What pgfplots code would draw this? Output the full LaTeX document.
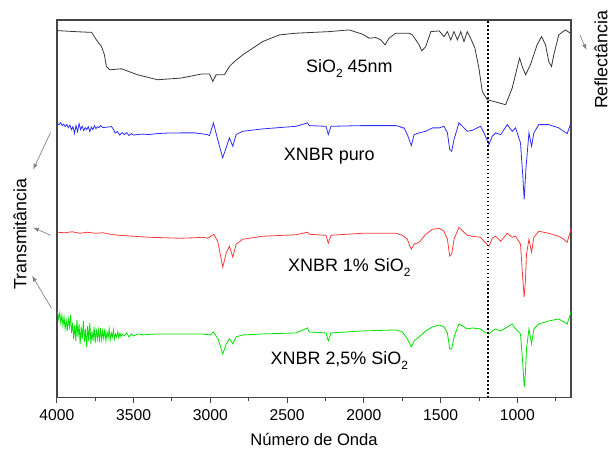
\documentclass[border=0pt]{standalone}
\usepackage{pgfplots}
\pgfplotsset{compat=1.18}
\usepackage{fontspec}
\setmainfont{Liberation Sans}
\definecolor{cBlack}{RGB}{55,55,55}
\definecolor{cBlue}{RGB}{45,45,255}
\definecolor{cRed}{RGB}{255,60,60}
\definecolor{cGreen}{RGB}{0,225,0}
\definecolor{cFrame}{RGB}{70,70,70}
\newcommand{\sub}[1]{\raisebox{-0.55ex}{\fontsize{9}{9}\selectfont #1}}
\begin{document}
\begin{tikzpicture}
\begin{axis}[
    name=ax,
    scale only axis,
    width=387pt, height=284.25pt,
    x dir=reverse,
    xmin=650, xmax=4000,
    ymin=1, ymax=380,
    ytick=\empty,
    xtick={1000,1500,...,4000},
    minor xtick={750,1250,...,3750},
    xtick pos=left,
    tick align=outside,
    major tick length=4pt,
    minor tick length=2.5pt,
    tick style={cFrame, line width=0.8pt},
    axis line style={cFrame, line width=1.1pt},
    /pgf/number format/assume math mode=true,
    /pgf/number format/1000 sep={},
    x tick label style={font=\fontsize{11.8}{13}\selectfont, yshift=-1pt},
    xlabel={Número de Onda},
    xlabel style={font=\fontsize{12.5}{14}\selectfont, yshift=-3pt},
    clip=false,
    every axis plot/.append style={line width=0.6pt},
]
% SiO2 45nm
\addplot[color=cBlack] coordinates {
(3995,369.3) (3940,368.8) (3883,368.3) (3800,367.7) (3774,367.7) (3742,360)
(3709,353.3) (3690,345) (3677,333.3) (3655,330) (3579,331) (3474,325)
(3344,320) (3190,321.7) (3059,325.7) (3005,325.7) (2984,318.3) (2962,325)
(2908,325) (2876,333.3) (2843,338.3) (2789,345) (2659,358.3) (2550,365)
(2442,366.7) (2225,368.3) (2096,370) (2009,365.7) (1966,361.7) (1922,362.3)
(1890,360) (1862,355) (1836,361.7) (1792,366.7) (1770,366.7) (1706,366.7)
(1684,365) (1640,355) (1623,349) (1597,353.3) (1564,368.3) (1510,369)
(1478,363.3) (1456,368.3) (1434,360) (1413,368.3) (1391,360) (1369,368.3)
(1348,358.3) (1327,368.3) (1305,361.7) (1277,351.7) (1251,331.7) (1229,308.3)
(1197,300) (1142,297.7) (1077,295) (1034,311.7) (1002,331.7) (986,341.7)
(965,331.7) (947,325) (915,335) (872,355) (843,363.3) (817,355)
(796,338.3) (778,333.3) (763,345) (731,365) (688,370) (655,366.7) (650,368)
};
% XNBR puro
\addplot[color=cBlue] coordinates {
(3995,276) (3985,275) (3975,277) (3965,274) (3955,275.5) (3945,273)
(3935,275) (3925,272) (3915,274.5) (3905,270) (3895,273) (3885,266)
(3875,274) (3865,268) (3855,276) (3845,270) (3835,273.5) (3825,269)
(3815,272) (3805,270) (3795,273) (3785,268) (3775,272.5) (3765,270)
(3755,274) (3745,271) (3735,273) (3725,272) (3715,274) (3700,272)
(3644,273) (3630,270) (3620,266.5) (3605,268) (3590,264.5) (3575,267)
(3560,265) (3545,267) (3530,264) (3515,266) (3500,264.5) (3474,265)
(3440,265.5) (3400,265) (3344,266) (3280,266.5) (3190,266.7) (3100,266.7)
(3020,265) (3005,264) (2980,276.7) (2952,260) (2920,241.7) (2897,251.7)
(2876,261.7) (2854,253.3) (2832,265) (2789,268.3) (2659,270.7) (2442,273.3)
(2367,276.7) (2356,274) (2247,273.3) (2232,265) (2214,273.3) (2009,274)
(1792,274) (1770,273.3) (1749,271.7) (1738,271.7) (1717,265) (1691,254)
(1673,265) (1640,266.7) (1597,268.3) (1554,271.7) (1510,271.7) (1478,273.3)
(1456,266.7) (1441,250) (1428,248.3) (1413,260) (1381,276.7) (1348,271.7)
(1327,268.3) (1294,269.3) (1240,273.3) (1218,266.7) (1185,255) (1164,263.3)
(1142,266.7) (1109,265) (1066,275) (1034,268.3) (1012,271.7) (980,256.7)
(965,223.3) (956,200) (945,230) (925,266.7) (908,253.3) (893,266.7)
(861,275) (796,275) (731,271.7) (698,268.3) (676,266) (655,275) (650,276)
};
% XNBR 1% SiO2
\addplot[color=cRed] coordinates {
(3995,167) (3950,166.5) (3900,167.5) (3850,166) (3800,167) (3750,166)
(3700,166.5) (3650,165) (3600,164) (3500,163) (3400,162) (3300,161.5)
(3200,161) (3100,161.5) (3050,162) (3016,161) (2978,165) (2952,158)
(2919,132) (2897,146) (2876,153) (2854,142) (2832,155) (2789,160)
(2659,163) (2442,164.5) (2367,167) (2356,165) (2247,164) (2232,156)
(2214,164) (2009,166) (1792,166) (1749,164) (1717,160) (1700,153)
(1691,150) (1673,155) (1640,157) (1597,165) (1554,170) (1510,171)
(1478,168) (1456,160) (1441,143) (1428,145) (1413,160) (1381,172)
(1348,167) (1327,164) (1294,163) (1240,162) (1218,158) (1185,153)
(1164,161) (1142,163) (1109,158) (1066,166) (1034,162) (1012,163)
(980,155) (965,120) (956,102) (948,118) (941,145) (925,160)
(908,147) (893,162) (861,168) (796,166) (731,163) (698,160)
(676,157) (655,168) (650,170)
};
% XNBR 2,5% SiO2
\addplot[color=cGreen] coordinates {
(3995,87) (3988,80) (3981,86) (3974,76) (3967,84) (3960,73) (3953,82)
(3946,70) (3939,79) (3932,68) (3925,80) (3918,72) (3911,84) (3904,66)
(3897,76) (3890,60) (3883,74) (3876,58) (3869,79) (3862,62) (3855,75)
(3848,55) (3841,72) (3834,60) (3827,78) (3820,57) (3813,70) (3806,52)
(3799,73) (3792,58) (3785,76) (3778,55) (3771,68) (3764,58) (3757,72)
(3750,56) (3743,70) (3736,60) (3729,69) (3722,57) (3715,71) (3708,59)
(3701,68) (3694,60) (3687,70) (3680,58) (3673,67) (3666,61) (3659,70)
(3652,59) (3645,66) (3638,62) (3631,69) (3624,60) (3617,65) (3610,62)
(3603,67) (3596,61) (3589,66) (3582,62) (3575,65) (3560,63) (3545,66)
(3530,62) (3515,65) (3500,63) (3470,65) (3440,64) (3400,64.5) (3344,65)
(3190,65) (3059,65) (3000,64) (2980,67) (2950,60) (2919,45) (2897,55)
(2876,60) (2854,55) (2832,62) (2789,64) (2659,65) (2442,66) (2367,71)
(2356,67) (2247,66) (2232,58) (2214,66) (2009,68) (1792,69) (1749,67)
(1717,60) (1691,52) (1673,58) (1640,62) (1597,68) (1554,72) (1510,74)
(1478,72) (1456,66) (1441,50) (1428,50) (1413,62) (1381,75) (1348,72)
(1327,70) (1294,71) (1240,70) (1218,67) (1185,65) (1164,68) (1142,70)
(1109,68) (1066,72) (1034,75) (1012,70) (980,65) (965,35) (956,12)
(948,25) (941,50) (925,70) (908,55) (893,70) (861,75) (796,78)
(731,80) (698,77) (676,75) (655,85) (650,88)
};
% dotted marker line
\addplot[black, line width=1.2pt, dash pattern=on 1.2pt off 1.8pt] coordinates {(1190,1) (1190,380)};

\node[font=\fontsize{13.5}{15}\selectfont] at (axis cs:2095,331) {SiO\sub{2} 45nm};
\node[font=\fontsize{13.5}{15}\selectfont] at (axis cs:2225,243) {XNBR puro};
\node[font=\fontsize{13.5}{15}\selectfont] at (axis cs:2095,132) {XNBR 1\% SiO\sub{2}};
\node[font=\fontsize{13.5}{15}\selectfont] at (axis cs:2160,38) {XNBR 2,5\% SiO\sub{2}};

\node[rotate=90, font=\fontsize{13.4}{15}\selectfont] at (axis description cs:-0.0717,0.4327) {Transmitância};
\node[rotate=90, font=\fontsize{13.4}{15}\selectfont] at (axis description cs:1.058,0.894) {Reflectância};
\draw[-latex, gray, line width=0.5pt] (axis description cs:-0.0122,0.702) -- (axis description cs:-0.0459,0.6042);
\draw[-latex, gray, line width=0.5pt] (axis description cs:-0.0122,0.430) -- (axis description cs:-0.0459,0.4504);
\draw[-latex, gray, line width=0.5pt] (axis description cs:-0.0103,0.2367) -- (axis description cs:-0.0479,0.3227);
\draw[-latex, gray, line width=0.5pt] (axis description cs:1.0169,0.9604) -- (axis description cs:1.0297,0.9208);
\end{axis}
\path ([xshift=-42.75pt,yshift=-42pt]ax.south west) rectangle ([xshift=29.25pt,yshift=15pt]ax.north east);
\end{tikzpicture}
\end{document}
